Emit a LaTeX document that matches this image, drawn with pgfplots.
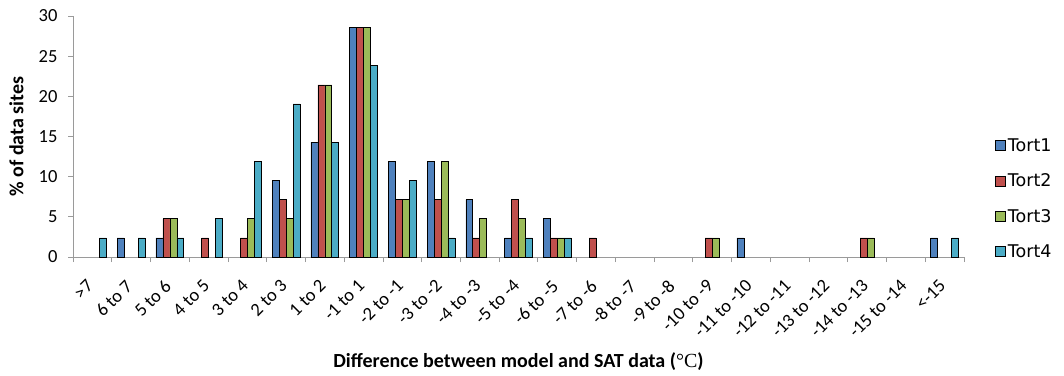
\documentclass[border=0pt]{standalone}
\usepackage{pgfplots}
\pgfplotsset{compat=1.18}
\usepackage{fontspec}
\setmainfont{Carlito}
\newfontfamily\serifdeg{Liberation Serif}
\newfontfamily\legendfont{DejaVu Sans}

\definecolor{tortA}{HTML}{4F81BD}
\definecolor{tortB}{HTML}{C0504D}
\definecolor{tortC}{HTML}{9BBB59}
\definecolor{tortD}{HTML}{4BACC6}
\definecolor{axisgray}{HTML}{9A9A9A}

\begin{document}
\begin{tikzpicture}
\begin{axis}[
  scale only axis,
  width=891bp, height=241bp,
  ybar=0pt,
  bar width=0.18,
  xmin=-0.5, xmax=22.5,
  ymin=0, ymax=30,
  ytick={0,5,...,30},
  xtick={0,...,22},
  xticklabels={{>7},{6 to 7},{5 to 6},{4 to 5},{3 to 4},{2 to 3},{1 to 2},{-1 to 1},{-2 to -1},{-3 to -2},{-4 to -3},{-5 to -4},{-6 to -5},{-7 to -6},{-8 to -7},{-9 to -8},{-10 to -9},{-11 to -10},{-12 to -11},{-13 to -12},{-14 to -13},{-15 to -14},{<-15}},
  minor xtick={-0.5,0.5,...,22.5},
  major x tick style={draw=none},
  tick align=outside,
  major tick length=5bp,
  minor tick length=5bp,
  every tick/.style={axisgray, line width=0.8bp},
  axis x line*=bottom,
  axis y line*=left,
  axis line style={axisgray, line width=0.8bp, -},
  /pgf/number format/assume math mode=true,
  tick label style={font=\fontsize{18.5bp}{21bp}\selectfont, black},
  yticklabel style={xshift=-7bp},
  xticklabel style={xshift=-6.5bp, yshift=-15bp, rotate=45, anchor=north east, inner sep=1bp},
  xlabel={\textbf{Difference between model and SAT data (}{\serifdeg °C}\textbf{)}},
  ylabel={\textbf{\% of data sites}},
  every axis x label/.style={at={(axis description cs:0.5,-0.436)}, anchor=center,
    font=\fontsize{20bp}{23bp}\selectfont},
  every axis y label/.style={at={(axis description cs:-0.0634,0.5)}, rotate=90, anchor=center,
    font=\fontsize{20bp}{23bp}\selectfont},
  legend style={draw=none, fill=none, at={(axis description cs:1.035,0.242)}, anchor=west,
    font=\fontsize{17.5bp}{20bp}\selectfont\legendfont, row sep=17bp, inner sep=0pt,
    legend cell align=left, /tikz/every even column/.append style={column sep=1bp}},
  legend image code/.code={\draw[#1, draw=black, line width=0.6bp] (0bp,-5bp) rectangle (10bp,5bp);},
  every axis plot/.append style={draw=black, line width=0.6bp},
]
% Tort1
\addplot[fill=tortA] coordinates {(1,2.38) (2,2.38) (5,9.52) (6,14.29) (7,28.57) (8,11.90) (9,11.90) (10,7.14) (11,2.38) (12,4.76) (17,2.38) (22,2.38)};
% Tort2
\addplot[fill=tortB] coordinates {(2,4.76) (3,2.38) (4,2.38) (5,7.14) (6,21.43) (7,28.57) (8,7.14) (9,7.14) (10,2.38) (11,7.14) (12,2.38) (13,2.38) (16,2.38) (20,2.38)};
% Tort3
\addplot[fill=tortC] coordinates {(2,4.76) (4,4.76) (5,4.76) (6,21.43) (7,28.57) (8,7.14) (9,11.90) (10,4.76) (11,4.76) (12,2.38) (16,2.38) (20,2.38)};
% Tort4
\addplot[fill=tortD] coordinates {(0,2.38) (1,2.38) (2,2.38) (3,4.76) (4,11.90) (5,19.05) (6,14.29) (7,23.81) (8,9.52) (9,2.38) (11,2.38) (12,2.38) (22,2.38)};
\legend{Tort1,Tort2,Tort3,Tort4}
\end{axis}
\path (current axis.south west) ++(-73bp,-119bp) rectangle ++(1064bp,376bp);
\end{tikzpicture}
\end{document}
